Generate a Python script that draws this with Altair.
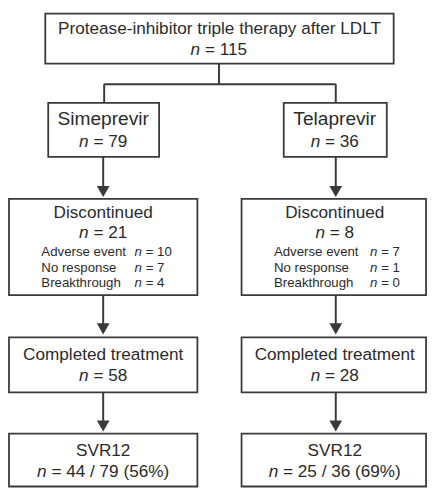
import altair as alt
import pandas as pd

# ---------------- data ----------------
title_text = "Protease-inhibitor triple therapy after LDLT"
total_n = 115
arms = ["Simeprevir", "Telaprevir"]
arm_n = [79, 36]
disc_label = "Discontinued"
disc_n = [21, 8]
reasons = ["Adverse event", "No response", "Breakthrough"]
reason_n = [[10, 7, 4], [7, 1, 0]]
completed_label = "Completed treatment"
completed_n = [58, 28]
svr_label = "SVR12"
svr_n = [44, 25]
svr_pct = [56, 69]

# ---------------- layout (pixel positions of the flow chart) ----------------
W, H = 436, 490
M = 8  # page margin
col_cx = [105, 341]
top_box = (46, 401, 6, 57)
arm_box = [(49, 162, 97, 152), (289, 394, 97, 152)]
disc_box = [(9, 201, 195, 293), (246, 434, 195, 293)]
comp_box = [(9, 201, 336, 392), (246, 434, 336, 392)]
svr_box = [(9, 201, 434, 488), (246, 434, 434, 488)]
reason_lx = [42, 279]
reason_nx = [137, 377]
reason_y = [249, 265, 281]

FS_MAIN = 17.5
FS_ARM = 19.5
FS_SUB = 13.5
INK = "#2b2b2b"
LINE = "#3a3a3a"

# Arial-like advance widths (em) for measuring the "n = ..." strings
ADV = {" ": 0.278, "=": 0.584, "/": 0.278, "(": 0.333, ")": 0.333, "%": 0.889}
for d in "0123456789":
    ADV[d] = 0.556
N_ADV = 0.556
SP = 0.278


def rest_width(s, fs):
    return sum(ADV.get(c, 0.556) for c in s) * fs


plain_rows, ital_rows = [], []


def add_center_n(cx, y, rest, fs):
    # rest is the text after "n " (e.g. "= 79")
    total = (N_ADV + SP) * fs + rest_width(rest, fs)
    x0 = cx - total / 2
    ital_rows.append({"x": x0, "y": y, "t": "n", "s": fs})
    plain_rows.append({"x": x0 + (N_ADV + SP) * fs, "y": y, "t": rest, "s": fs, "a": "left"})


def add_left_n(x, y, rest, fs):
    ital_rows.append({"x": x, "y": y, "t": "n", "s": fs})
    plain_rows.append({"x": x + (N_ADV + SP) * fs, "y": y, "t": rest, "s": fs, "a": "left"})


# top box
tcx = (top_box[0] + top_box[1]) / 2
plain_rows.append({"x": tcx, "y": 22, "t": title_text, "s": FS_MAIN, "a": "center"})
add_center_n(tcx, 43, f"= {total_n}", FS_MAIN)

for i in range(2):
    cx = col_cx[i]
    plain_rows.append({"x": cx, "y": 114, "t": arms[i], "s": FS_ARM, "a": "center"})
    add_center_n(cx, 137, f"= {arm_n[i]}", FS_MAIN)
    plain_rows.append({"x": cx, "y": 209, "t": disc_label, "s": FS_MAIN, "a": "center"})
    add_center_n(cx, 230, f"= {disc_n[i]}", FS_MAIN)
    for j, r in enumerate(reasons):
        plain_rows.append({"x": reason_lx[i], "y": reason_y[j], "t": r, "s": FS_SUB, "a": "left"})
        add_left_n(reason_nx[i], reason_y[j], f"= {reason_n[i][j]}", FS_SUB)
    plain_rows.append({"x": cx, "y": 354, "t": completed_label, "s": FS_MAIN, "a": "center"})
    add_center_n(cx, 375, f"= {completed_n[i]}", FS_MAIN)
    plain_rows.append({"x": cx, "y": 452, "t": svr_label, "s": FS_MAIN, "a": "center"})
    add_center_n(cx, 473, f"= {svr_n[i]} / {arm_n[i]} ({svr_pct[i]}%)", FS_MAIN)

boxes = [top_box] + arm_box + disc_box + comp_box + svr_box
box_df = pd.DataFrame([{"x": b[0], "x2": b[1], "y": b[2], "y2": b[3]} for b in boxes])

# connector segments
seg = [
    (223, 57, 223, 78),
    (106, 78, 342, 78),
    (106, 78, 106, 97),
    (342, 78, 342, 97),
]
# arrows: (x, y_start, y_tip)
arrows = []
for i, ax in enumerate([105, 342]):
    arrows += [(ax, 152, 193), (ax, 293, 333), (ax, 392, 432)]
TRI = 169  # symbol area; width = sqrt(area)
tri_h = 0.866 * TRI ** 0.5
for (ax, y0, yt) in arrows:
    seg.append((ax, y0, ax, yt - tri_h + 1))
seg_df = pd.DataFrame([{"x": s[0], "y": s[1], "x2": s[2], "y2": s[3]} for s in seg])
tri_df = pd.DataFrame([{"x": a[0], "y": a[2] - tri_h / 2} for a in arrows])

xs = alt.Scale(domain=[M, W], range=[0, W - M], nice=False, zero=False)
ys = alt.Scale(domain=[M, H], range=[0, H - M], nice=False, zero=False)
FONT = "Liberation Sans"

rects = alt.Chart(box_df).mark_rect(fill="white", stroke=LINE, strokeWidth=1.8).encode(
    x=alt.X("x:Q", scale=xs, axis=None), x2="x2:Q",
    y=alt.Y("y:Q", scale=ys, axis=None), y2="y2:Q",
)
rules = alt.Chart(seg_df).mark_rule(color=LINE, strokeWidth=2).encode(
    x=alt.X("x:Q", scale=xs, axis=None), x2="x2:Q",
    y=alt.Y("y:Q", scale=ys, axis=None), y2="y2:Q",
)
tris = alt.Chart(tri_df).mark_point(shape="triangle-down", size=TRI, filled=True,
                                     color=LINE, opacity=1).encode(
    x=alt.X("x:Q", scale=xs, axis=None),
    y=alt.Y("y:Q", scale=ys, axis=None),
)

pdf = pd.DataFrame(plain_rows)
layers = [rects, rules, tris]
for al in ["center", "left"]:
    sub = pdf[pdf["a"] == al]
    layers.append(
        alt.Chart(sub).mark_text(align=al, baseline="middle", font=FONT, color=INK).encode(
            x=alt.X("x:Q", scale=xs, axis=None),
            y=alt.Y("y:Q", scale=ys, axis=None),
            text="t:N",
            size=alt.Size("s:Q", scale=None, legend=None),
        )
    )
idf = pd.DataFrame(ital_rows)
layers.append(
    alt.Chart(idf).mark_text(align="left", baseline="middle", font=FONT, fontStyle="italic",
                             color=INK).encode(
        x=alt.X("x:Q", scale=xs, axis=None),
        y=alt.Y("y:Q", scale=ys, axis=None),
        text="t:N",
        size=alt.Size("s:Q", scale=None, legend=None),
    )
)

chart = alt.layer(*layers).properties(
    width=W - M, height=H - M, padding=0, background="white"
).configure_view(strokeWidth=0)

chart.save("out.html", embed_options={"renderer": "svg", "actions": False})
